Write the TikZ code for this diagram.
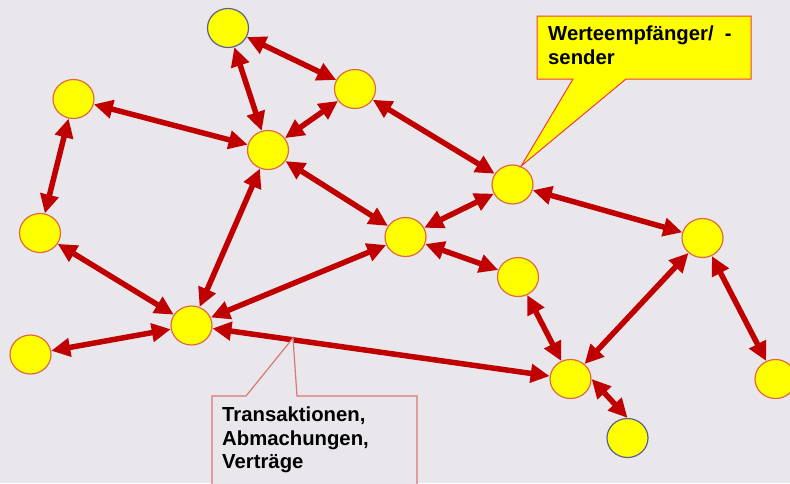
\documentclass[tikz,border=0pt]{standalone}
\usepackage{fontspec}
\setmainfont{Liberation Sans}
\usetikzlibrary{arrows.meta,shapes.geometric}

\definecolor{paper}{HTML}{E9E7EB}
\definecolor{linkred}{HTML}{C00000}
\definecolor{dotfill}{HTML}{FFFF00}
\definecolor{dotline}{HTML}{E06A3C}
\definecolor{dotblue}{HTML}{5A6090}
\definecolor{boxred}{HTML}{F03C3C}
\definecolor{boxpink}{HTML}{D87878}

\tikzset{
  party/.style={ellipse,draw=dotline,fill=dotfill,line width=1.2pt,minimum width=41pt,minimum height=39pt,inner sep=0pt},
  outsider/.style={party,draw=dotblue},
  link/.style={draw=linkred,line width=5.5pt,{Triangle[length=19pt,width=18pt]}-{Triangle[length=19pt,width=18pt]}},
  note/.style={inner sep=0pt,align=left,font=\fontsize{20.3}{23.3}\selectfont\bfseries}
}

\begin{document}
\begin{tikzpicture}[x=1pt,y=-1pt]
        \useasboundingbox (0,0) rectangle (790,483);
        \fill[paper] (0,0) rectangle (790,483);

        % participants
        \node[outsider] (p0) at (228,28) {};
        \node[party] (p1) at (355,89) {};
        \node[party] (p2) at (73.5,99) {};
        \node[party] (p3) at (268,150) {};
        \node[party] (p4) at (512.5,184.5) {};
        \node[party] (p5) at (40,233) {};
        \node[party] (p6) at (405.5,237) {};
        \node[party] (p7) at (702.5,238) {};
        \node[party] (p8) at (518,277) {};
        \node[party] (p9) at (191.5,325.5) {};
        \node[party] (p10) at (30.5,354.5) {};
        \node[party] (p11) at (570.5,379) {};
        \node[party] (p12) at (775.5,379) {};
        \node[outsider] (p13) at (627.5,438) {};

        % relations
        \draw[link] (p0) -- (p1);
        \draw[link] (p0) -- (p3);
        \draw[link] (p1) -- (p3);
        \draw[link] (p2) -- (p3);
        \draw[link] (p2) -- (p5);
        \draw[link] (p3) -- (p6);
        \draw[link] (p1) -- (p4);
        \draw[link] (p4) -- (p6);
        \draw[link] (p4) -- (p7);
        \draw[link] (p6) -- (p8);
        \draw[link] (p3) -- (p9);
        \draw[link] (p5) -- (p9);
        \draw[link] (p6) -- (p9);
        \draw[link] (p10) -- (p9);
        \draw[link] (p9) -- (p11);
        \draw[link] (p8) -- (p11);
        \draw[link] (p7) -- (p11);
        \draw[link] (p7) -- (p12);
        \draw[link] (p11.east) -- (p13.north);

        % callouts
        \coordinate (tip1) at (p4.65);
        \filldraw[fill=dotfill,draw=boxred,line width=1pt]
          (537,16) -- (751,16) -- (751,79) -- (626,79) -- (tip1) -- (573,79) -- (537,79) -- cycle;
        \node[note,anchor=north west] (lab1) at (548,26) {Werteempf\"anger/\ \ -\\sender};

        \coordinate (tip2) at (293,338);
        \filldraw[fill=paper,draw=boxpink,line width=1.2pt]
          (212,490) -- (212,396) -- (246,396) -- (tip2) -- (297,396) -- (417,396) -- (417,490);
        \node[note,anchor=north west] (lab2) at (222,407) {Transaktionen,\\Abmachungen,\\Vertr\"age};
\end{tikzpicture}
\end{document}
